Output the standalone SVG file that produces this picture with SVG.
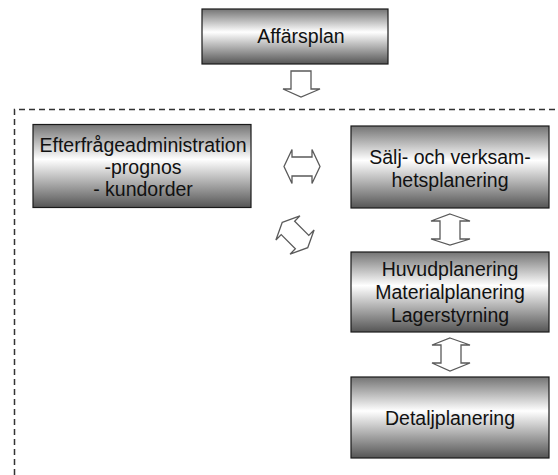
<svg xmlns="http://www.w3.org/2000/svg" width="558" height="475" viewBox="0 0 558 475">
  <defs>
    <!-- metallic vertical shading used by every box -->
    <linearGradient id="boxShade" x1="0" y1="0" x2="0" y2="1">
      <stop offset="0" stop-color="#747474"/>
      <stop offset="0.42" stop-color="#ffffff"/>
      <stop offset="1" stop-color="#555555"/>
    </linearGradient>
    <!-- horizontal double block arrow centred on the origin -->
    <path id="dblArrowH" d="M-18,0 L-10,-17 L-10,-9.5 L10,-9.5 L10,-17 L18,0 L10,17 L10,9.5 L-10,9.5 L-10,17 Z"/>
  </defs>
  <style>
    .box { fill: url(#boxShade); stroke: #1a1a1a; stroke-width: 1.2; }
    .lbl { font-family: "Liberation Sans", Arial, sans-serif; font-size: 19.5px; fill: #111; text-anchor: middle; }
    .arrow { fill: #ffffff; stroke: #5a5a5a; stroke-width: 1.3; stroke-linejoin: miter; }
    .frame { fill: none; stroke: #333; stroke-width: 1.5; stroke-dasharray: 6 4; }
  </style>

  <rect width="558" height="475" fill="#ffffff"/>

  <!-- dashed boundary of the planning area -->
  <path class="frame" d="M14.5,475 V109.5 H558"/>

  <g id="affarsplan">
    <rect class="box" x="202" y="9" width="186" height="55"/>
    <text class="lbl" x="301" y="43">Affärsplan</text>
  </g>

  <g id="efterfrageadministration">
    <rect class="box" x="33" y="124.5" width="218" height="83"/>
    <text class="lbl" x="143" y="152">Efterfrågeadministration</text>
    <text class="lbl" x="143" y="174">-prognos</text>
    <text class="lbl" x="143" y="196">- kundorder</text>
  </g>

  <g id="salj-och-verksamhetsplanering">
    <rect class="box" x="351" y="126" width="198" height="82"/>
    <text class="lbl" x="450" y="164">Sälj- och verksam-</text>
    <text class="lbl" x="450" y="187">hetsplanering</text>
  </g>

  <g id="huvudplanering">
    <rect class="box" x="351" y="252" width="198" height="80"/>
    <text class="lbl" x="450" y="276">Huvudplanering</text>
    <text class="lbl" x="450" y="299">Materialplanering</text>
    <text class="lbl" x="450" y="322">Lagerstyrning</text>
  </g>

  <g id="detaljplanering">
    <rect class="box" x="351" y="377" width="198" height="81"/>
    <text class="lbl" x="450" y="425">Detaljplanering</text>
  </g>

  <g id="connectors">
    <!-- Affärsplan down into the planning area -->
    <polygon class="arrow" points="291,71 311,71 311,89 320,89 301,97 283,89 291,89"/>
    <!-- Efterfrågeadministration to Sälj- och verksamhetsplanering -->
    <use class="arrow" href="#dblArrowH" transform="translate(302,166.5)"/>
    <!-- Efterfrågeadministration to Huvudplanering -->
    <use class="arrow" href="#dblArrowH" transform="translate(295,235) rotate(45)"/>
    <!-- Sälj- och verksamhetsplanering to Huvudplanering -->
    <polygon class="arrow" points="450,214 470,221 460,221 460,239 470,239 450,245 431,239 440,239 440,221 431,221"/>
    <!-- Huvudplanering to Detaljplanering -->
    <polygon class="arrow" points="450,338 470,345 461,345 461,363 470,363 450,371 432,363 441,363 441,345 432,345"/>
  </g>
</svg>
